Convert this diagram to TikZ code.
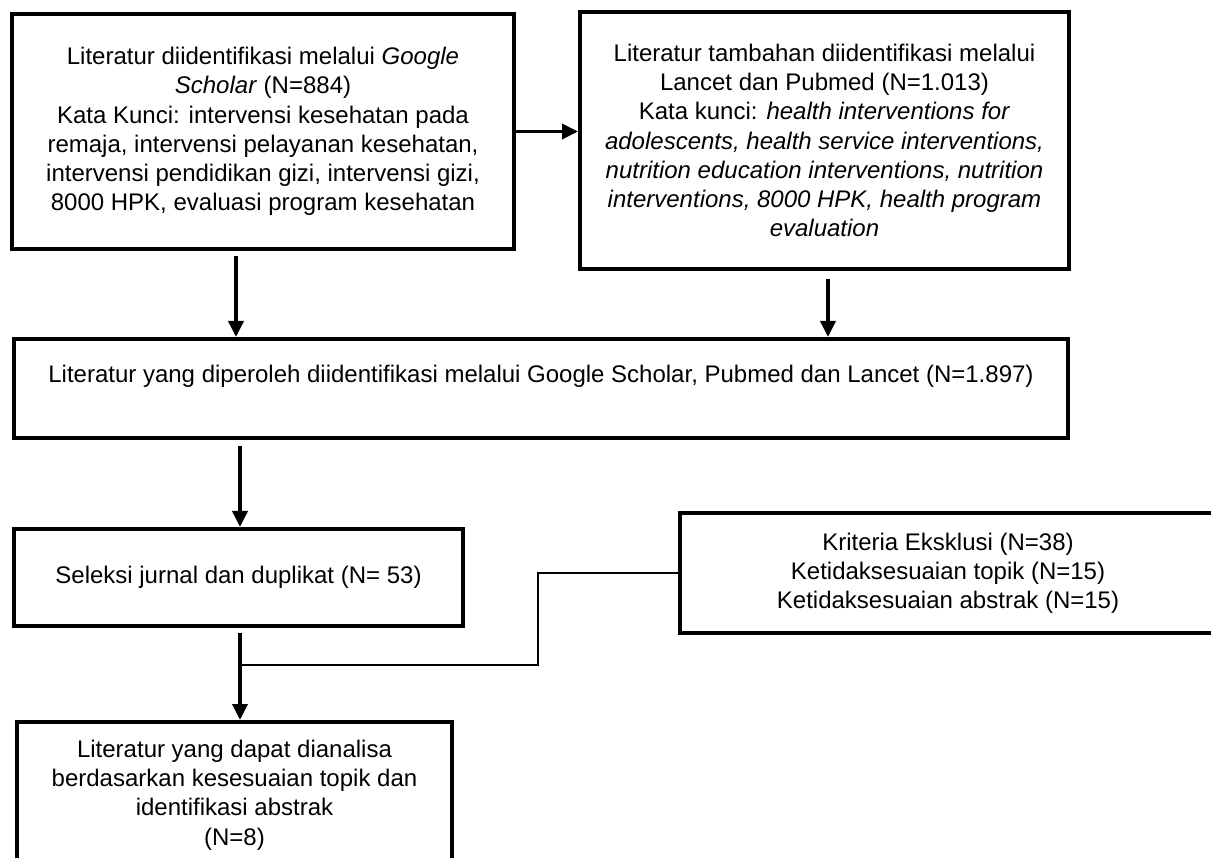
\documentclass[tikz,border=0pt]{standalone}
\usepackage{fontspec}
\setmainfont{Liberation Sans}
\usetikzlibrary{arrows.meta}
\begin{document}
\begin{tikzpicture}[x=1pt,y=-1pt,
  box/.style={draw, line width=4pt, align=center, inner sep=0pt,
    font=\fontsize{24}{29.2}\selectfont},
  arr/.style={line width=3.6pt, -{Triangle[length=16pt,width=15pt]}},
  thinline/.style={line width=1.5pt}]
\useasboundingbox (0,0) rectangle (1211,858);
\clip (0,0) rectangle (1211,858);
\fill[white] (0,0) rectangle (1211,858);

\node[box, minimum width=502pt, minimum height=235pt] (b1) at (263,131.5)
 {Literatur diidentifikasi melalui \textit{Google}\\
  \textit{Scholar} (N=884)\\
  Kata Kunci: intervensi kesehatan pada\\
  remaja, intervensi pelayanan kesehatan,\\
  intervensi pendidikan gizi, intervensi gizi,\\
  8000 HPK, evaluasi program kesehatan};

\node[box, minimum width=489pt, minimum height=257pt] (b2) at (824.5,140.5)
 {Literatur tambahan diidentifikasi melalui\\
  Lancet dan Pubmed (N=1.013)\\
  Kata kunci: \textit{health interventions for}\\
  \textit{adolescents, health service interventions,}\\
  \textit{nutrition education interventions, nutrition}\\
  \textit{interventions, 8000 HPK, health program}\\
  \textit{evaluation}};

\node[box, minimum width=1054pt, minimum height=99pt] (b3) at (541,388.5)
 {Literatur yang diperoleh diidentifikasi melalui Google Scholar, Pubmed dan Lancet (N=1.897)\\ \mbox{}};

\node[box, minimum width=449pt, minimum height=97pt] (b4) at (238.5,577.5)
 {Seleksi jurnal dan duplikat (N= 53)};

\node[box, minimum width=536pt, minimum height=120pt] (b5) at (948,573)
 {Kriteria Eksklusi (N=38)\\
  Ketidaksesuaian topik (N=15)\\
  Ketidaksesuaian abstrak (N=15)};

\node[box, minimum width=435pt, minimum height=146pt] (b6) at (234.5,795)
 {Literatur yang dapat dianalisa\\
  berdasarkan kesesuaian topik dan\\
  identifikasi abstrak\\
  (N=8)};

% arrows
\draw[arr] (b1.east) -- (b1.east -| b2.west);
\coordinate (s1) at ([xshift=-27pt,yshift=-5pt]b1.south);
\draw[arr] (s1) -- (s1 |- b3.north);
\coordinate (s2) at ([xshift=3.5pt,yshift=-8pt]b2.south);
\draw[arr] (s2) -- (s2 |- b3.north);
\coordinate (s3) at ([xshift=1.5pt]b4.north |- b3.south);
\draw[arr] ([yshift=-6pt]s3) -- (s3 |- b4.north);
\coordinate (s4) at ([xshift=1.5pt,yshift=-5pt]b4.south);
\draw[arr] (s4) -- (s4 |- b6.north);

% exclusion connector
\coordinate (k) at (538,665);
\coordinate (j) at (s4 |- k);
\draw[thinline] (b5.west) -| (k) -- (j);
\end{tikzpicture}
\end{document}
